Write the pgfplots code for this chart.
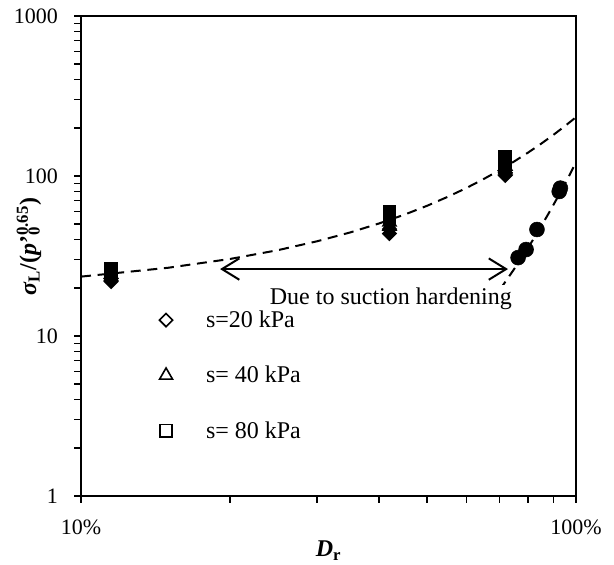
\documentclass[border=0pt]{standalone}
\usepackage{fontspec}
\setmainfont{Liberation Serif}
\usepackage{pgfplots}
\pgfplotsset{compat=1.18}
\usetikzlibrary{arrows.meta}

\begin{document}
\begin{tikzpicture}
\begin{axis}[
    scale only axis,
    width=371.25pt, height=360pt,
    xmode=log, ymode=log,
    xmin=0.1, xmax=1, ymin=1, ymax=1000,
    xtick={0.1,1}, xticklabels={10\%,100\%},
    minor xtick={0.2,0.3,0.4,0.5,0.6,0.7,0.8,0.9},
    ytick={1,10,100,1000}, yticklabels={1,10,100,1000},
    minor ytick={2,3,4,5,6,7,8,9,20,30,40,50,60,70,80,90,200,300,400,500,600,700,800,900},
    tick pos=left, tick align=outside,
    major tick length=5.25pt, minor tick length=5.25pt,
    tick style={black, line width=1pt},
    axis line style={line width=2pt},
    ticklabel style={font=\fontsize{16.5}{18}\selectfont},
    yticklabel style={xshift=-8.5pt},
    xticklabel style={yshift=-9pt},
    xlabel={\textbf{\textit{D}\textsubscript{r}}},
    xlabel style={at={(axis description cs:0.5,-0.127)}, anchor=base,
        font=\fontsize{18}{20}\selectfont},
    ylabel={\textbf{\textit{σ}\textsubscript{L}/(\textit{p}'\rlap{\textsubscript{0}}\textsuperscript{0.65})}},
    ylabel style={at={(axis description cs:-0.105,0.519)}, anchor=center,
        font=\fontsize{18}{20}\selectfont},
    legend style={draw=none, fill=none, inner sep=0pt,
        at={(axis description cs:0.158,0.392)}, anchor=north west,
        row sep=23.5pt, font=\fontsize{18}{20}\selectfont,
        nodes={inner xsep=0pt, inner ysep=2pt},
        /tikz/every odd column/.append style={column sep=25pt}},
    legend cell align=left,
]
% fitted curves
\addplot[forget plot, black, line width=1.5pt, dash pattern=on 7.5pt off 5pt] coordinates {
    (0.10,23.5) (0.15,26.7) (0.20,30.3) (0.25,34.4) (0.30,39.1) (0.35,44.4)
    (0.40,50.5) (0.45,57.3) (0.50,65.1) (0.55,74.0) (0.60,84.0) (0.65,95.5)
    (0.70,108.5) (0.75,123.2) (0.80,140.0) (0.85,159.0) (0.90,180.6)
    (0.95,205.2) (1.00,233.1)
};
\addplot[forget plot, black, line width=1.5pt, dash pattern=on 7.5pt off 5pt] coordinates {
    (0.67,16.0) (0.70,19.25) (0.73,23.2) (0.76,27.8) (0.79,33.5) (0.82,40.2)
    (0.85,48.4) (0.88,58.2) (0.91,70.0) (0.94,84.1) (0.97,101.2) (1.00,121.7)
};
% s=20 kPa
\addplot[only marks, mark=square*, mark size=3.5pt,
    mark options={rotate=45, line width=1.2pt, fill=black, draw=black},
    legend image code/.code={\draw[black, line width=1.2pt, mark=square, mark size=3.5pt,
        mark options={rotate=45}] plot[only marks] coordinates {(0cm,0cm)};}] coordinates {
    (0.115,21.9) (0.115,22.8) (0.420,43.7) (0.420,46.5) (0.720,100.9) (0.720,105)
};
% s=40 kPa
\addplot[only marks, mark=triangle*, mark size=5.6pt,
    mark options={line width=1.2pt, fill=black, draw=black},
    legend image code/.code={\draw[black, line width=1.2pt, mark=triangle, mark size=5.6pt]
        plot[only marks] coordinates {(0cm,0cm)};}] coordinates {
    (0.115,23.5) (0.115,24.3) (0.420,48.5) (0.420,51.5) (0.720,109) (0.720,115)
};
% s=80 kPa
\addplot[only marks, mark=square*, mark size=4.6pt,
    mark options={line width=1.2pt, fill=black, draw=black},
    legend image code/.code={\draw[black, line width=1.2pt, mark=square, mark size=4.6pt]
        plot[only marks] coordinates {(0cm,0cm)};}] coordinates {
    (0.115,25.2) (0.115,26.4) (0.420,55) (0.420,60) (0.720,121) (0.720,130.8)
};
% saturated
\addplot[forget plot, only marks, mark=*, mark size=5.6pt,
    mark options={fill=black, draw=black}] coordinates {
    (0.764,30.9) (0.793,34.7) (0.834,46.3) (0.925,80) (0.930,84)
};
\legend{s=20 kPa, s= 40 kPa, s= 80 kPa}
\draw[{Straight Barb[length=13pt,width=16pt]}-{Straight Barb[length=13pt,width=16pt]}, line width=1.5pt]
    (axis cs:0.191,26.2) -- (axis cs:0.729,26.2);
\node[anchor=base west, fill=white, inner sep=2pt, font=\fontsize{18}{20}\selectfont]
    at (axis cs:0.2375,15.7) {Due to suction hardening};
\coordinate (ll) at (rel axis cs:0,0);
\coordinate (ur) at (rel axis cs:1,1);
\end{axis}
\path ([shift={(-60.75pt,-48pt)}]ll) rectangle ([shift={(28.5pt,12pt)}]ur);
\end{tikzpicture}
\end{document}
